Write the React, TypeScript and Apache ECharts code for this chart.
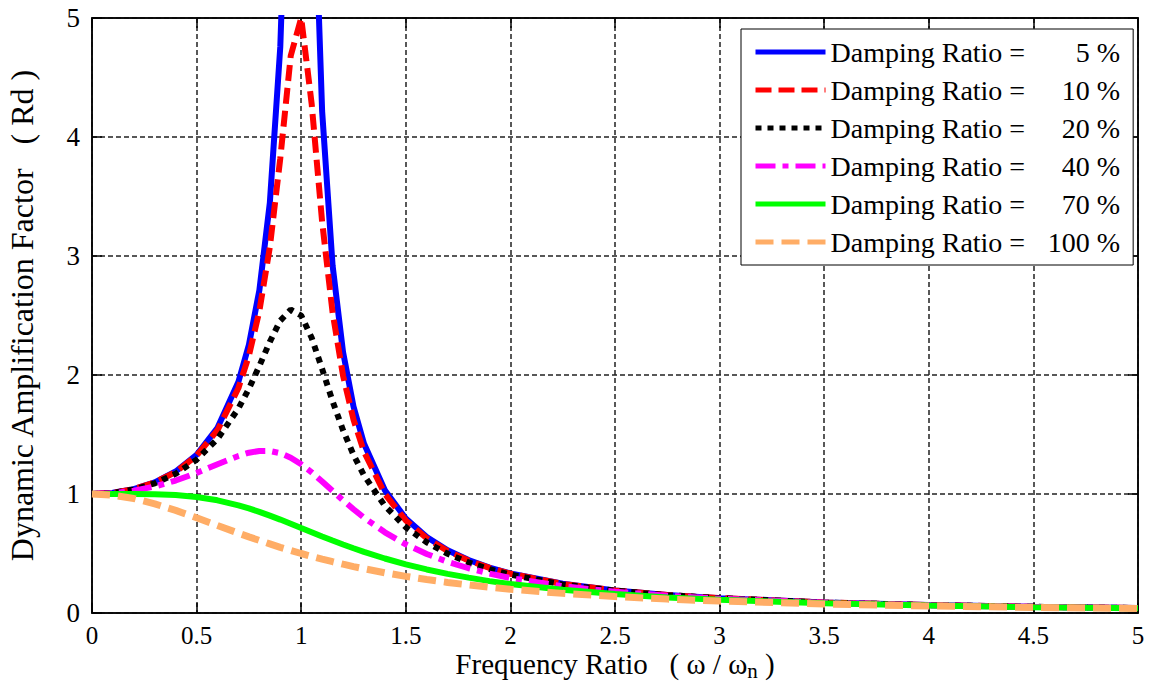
import React, { useEffect, useRef } from "react";
import * as echarts from "echarts";

// Frequency ratio samples (ω / ωn)
const ratio = [0, 0.1, 0.2, 0.3, 0.4, 0.5, 0.6, 0.7, 0.75, 0.8, 0.85, 0.9, 0.95, 1.0, 1.05, 1.1, 1.15, 1.2, 1.25, 1.3, 1.4, 1.5, 1.6, 1.7, 1.8, 1.9, 2.0, 2.25, 2.5, 2.75, 3.0, 3.5, 4.0, 4.5, 5.0];

// Dynamic amplification factor, one list per damping ratio
const rd5 = [1.0, 1.01, 1.041, 1.098, 1.189, 1.33, 1.556, 1.943, 2.253, 2.712, 3.446, 4.757, 7.346, 10.0, 6.815, 4.218, 2.921, 2.193, 1.735, 1.424, 1.031, 0.794, 0.638, 0.527, 0.445, 0.382, 0.333, 0.246, 0.19, 0.152, 0.125, 0.089, 0.067, 0.052, 0.042];
const rd10 = [1.0, 1.01, 1.041, 1.097, 1.185, 1.322, 1.536, 1.891, 2.162, 2.538, 3.073, 3.821, 4.683, 5.0, 4.279, 3.288, 2.525, 1.995, 1.625, 1.356, 1.0, 0.778, 0.628, 0.521, 0.441, 0.379, 0.33, 0.245, 0.19, 0.152, 0.125, 0.089, 0.067, 0.052, 0.042];
const rd20 = [1.0, 1.009, 1.038, 1.09, 1.17, 1.288, 1.463, 1.719, 1.885, 2.076, 2.279, 2.457, 2.549, 2.5, 2.313, 2.051, 1.78, 1.536, 1.329, 1.157, 0.9, 0.721, 0.593, 0.498, 0.425, 0.368, 0.322, 0.24, 0.187, 0.15, 0.124, 0.088, 0.066, 0.052, 0.042];
const rd40 = [1.0, 1.007, 1.028, 1.063, 1.113, 1.177, 1.25, 1.32, 1.347, 1.362, 1.362, 1.343, 1.305, 1.25, 1.182, 1.105, 1.026, 0.947, 0.872, 0.801, 0.678, 0.577, 0.496, 0.43, 0.376, 0.331, 0.294, 0.225, 0.178, 0.145, 0.12, 0.086, 0.065, 0.051, 0.041];
const rd70 = [1.0, 1.0, 1.0, 0.998, 0.991, 0.975, 0.947, 0.905, 0.879, 0.85, 0.818, 0.785, 0.75, 0.714, 0.679, 0.643, 0.609, 0.576, 0.544, 0.514, 0.458, 0.409, 0.366, 0.329, 0.297, 0.268, 0.244, 0.195, 0.159, 0.131, 0.111, 0.082, 0.063, 0.049, 0.04];
const rd100 = [1.0, 0.99, 0.962, 0.917, 0.862, 0.8, 0.735, 0.671, 0.64, 0.61, 0.581, 0.552, 0.526, 0.5, 0.476, 0.453, 0.431, 0.41, 0.39, 0.372, 0.338, 0.308, 0.281, 0.257, 0.236, 0.217, 0.2, 0.165, 0.138, 0.117, 0.1, 0.076, 0.059, 0.047, 0.038];

const dampingPct = ["5", "10", "20", "40", "70", "100"];
const seriesValues = [rd5, rd10, rd20, rd40, rd70, rd100];
const seriesColors = ["#0000ff", "#ff0000", "#000000", "#ff00ff", "#00ff00", "#ffad66"];
const seriesDash: any[] = ["solid", [16, 7], [6, 6], [20, 7, 6, 7], "solid", [18, 8]];
const seriesWidth = [6, 6, 6, 6, 6, 7];

const FONT = "Liberation Serif";

export default function App() {
  const ref = useRef<HTMLDivElement>(null);

  useEffect(() => {
    if (!ref.current) return;
    const chart = echarts.init(ref.current, undefined, { renderer: "svg" });

    const series = seriesValues.map((vals, k) => ({
      name: `Damping Ratio = ${dampingPct[k]} %`,
      type: "line",
      xAxisIndex: 0,
      yAxisIndex: 0,
      symbol: "none",
      showSymbol: false,
      clip: true,
      smooth: false,
      data: ratio.map((r, i) => [r, vals[i]]),
      lineStyle: { color: seriesColors[k], width: seriesWidth[k], type: seriesDash[k], cap: "butt" },
      itemStyle: { color: seriesColors[k] },
    }));

    const pctOf = (name: string) => name.replace("Damping Ratio = ", "").replace(" %", "");

    const gridLine = { show: true, lineStyle: { color: "#222", width: 1.5, type: [5, 3] } };

    chart.setOption({
      animation: false,
      backgroundColor: "#ffffff",
      textStyle: { fontFamily: FONT, color: "#000" },
      grid: {
        left: 92,
        top: 18,
        right: 20,
        bottom: 76,
        show: true,
        borderColor: "#000",
        borderWidth: 1.5,
        backgroundColor: "#fff",
        containLabel: false,
        outerBoundsMode: "none",
      },
      legend: {
        orient: "vertical",
        left: 741,
        top: 29,
        padding: [8, 13, 8, 12],
        itemGap: 8,
        itemWidth: 70,
        itemHeight: 14,
        backgroundColor: "#fff",
        borderColor: "#000",
        borderWidth: 1,
        borderRadius: 0,
        itemStyle: { opacity: 0 },
        lineStyle: { width: 5 },
        data: series.map((s) => s.name),
        formatter: (name: string) => `{a|Damping Ratio =}{b|${pctOf(name)} %}`,
        textStyle: {
          fontFamily: FONT,
          fontSize: 28,
          color: "#000",
          lineHeight: 30,
          rich: {
            a: { fontFamily: FONT, fontSize: 28, color: "#000", lineHeight: 30 },
            b: { fontFamily: FONT, fontSize: 28, color: "#000", lineHeight: 30, width: 95, align: "right" },
          },
        },
      },
      xAxis: [
        {
          type: "value",
          min: 0,
          max: 5,
          interval: 0.5,
          position: "bottom",
          name: "Frequency Ratio   ( ω / ω{sub|n} )",
          nameLocation: "middle",
          nameGap: 39,
          nameMoveOverlap: false,
          nameTextStyle: {
            fontFamily: FONT,
            fontSize: 29,
            lineHeight: 24,
            color: "#000",
            rich: {
              sub: { fontFamily: FONT, fontSize: 21, color: "#000", lineHeight: 24, padding: [14, 0, 0, 0] },
            },
          },
          axisLine: { show: true, onZero: false, lineStyle: { color: "#000", width: 1.5 } },
          axisTick: { show: true, inside: true, length: 10, lineStyle: { color: "#000", width: 1.5 } },
          axisLabel: { show: true, margin: 11, fontFamily: FONT, fontSize: 25, lineHeight: 22, color: "#000", formatter: (v: number) => String(v) },
          splitLine: gridLine,
        },
        {
          type: "value",
          min: 0,
          max: 5,
          interval: 0.5,
          position: "top",
          axisLine: { show: true, onZero: false, lineStyle: { color: "#000", width: 1.5 } },
          axisTick: { show: true, inside: true, length: 10, lineStyle: { color: "#000", width: 1.5 } },
          axisLabel: { show: false },
          splitLine: { show: false },
        },
      ],
      yAxis: [
        {
          type: "value",
          min: 0,
          max: 5,
          interval: 1,
          position: "left",
          name: "Dynamic Amplification Factor   ( Rd )",
          nameLocation: "middle",
          nameGap: 54,
          nameRotate: 90,
          nameMoveOverlap: false,
          nameTextStyle: { fontFamily: FONT, fontSize: 32, color: "#000" },
          axisLine: { show: true, onZero: false, lineStyle: { color: "#000", width: 1.5 } },
          axisTick: { show: true, inside: true, length: 10, lineStyle: { color: "#000", width: 1.5 } },
          axisLabel: { show: true, margin: 12, fontFamily: FONT, fontSize: 27, color: "#000" },
          splitLine: gridLine,
        },
        {
          type: "value",
          min: 0,
          max: 5,
          interval: 1,
          position: "right",
          axisLine: { show: true, onZero: false, lineStyle: { color: "#000", width: 1.5 } },
          axisTick: { show: true, inside: true, length: 10, lineStyle: { color: "#000", width: 1.5 } },
          axisLabel: { show: false },
          splitLine: { show: false },
        },
      ],
      series,
    });

    return () => chart.dispose();
  }, []);

  return (
    <div
      ref={ref}
      style={{ position: "fixed", left: 0, top: 0, width: 1158, height: 689, background: "#fff" }}
    />
  );
}
